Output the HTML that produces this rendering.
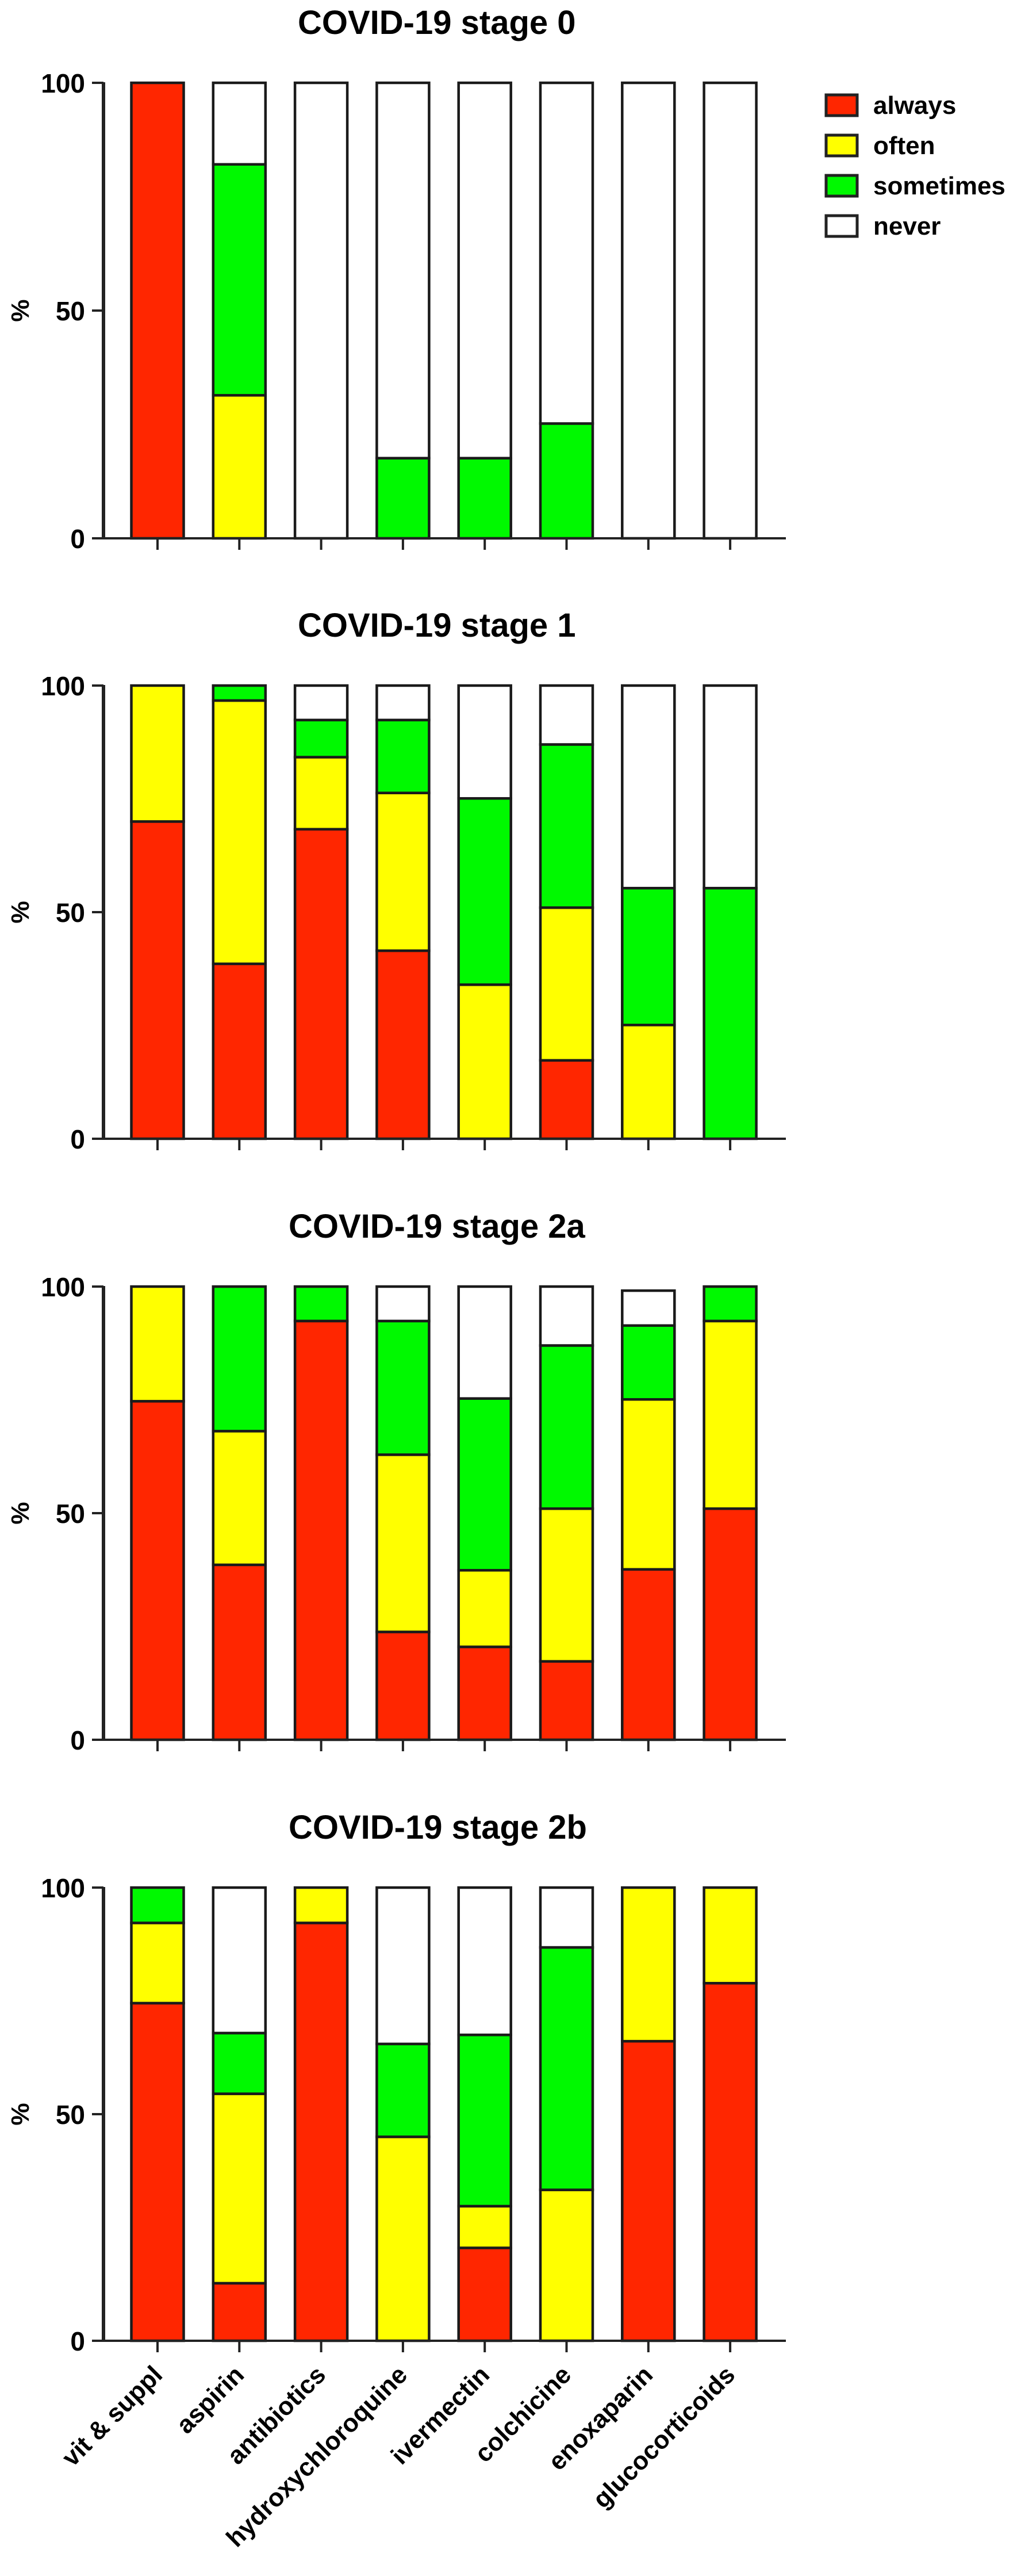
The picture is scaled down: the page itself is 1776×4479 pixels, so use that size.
<!DOCTYPE html>
<html><head><meta charset="utf-8"><style>body{margin:0;background:#fff}svg{display:block}</style></head>
<body>
<svg id="s" width="1776" height="4479" xmlns="http://www.w3.org/2000/svg" font-family="Liberation Sans, sans-serif" font-weight="bold">
<rect width="1776" height="4479" fill="#fff"/>
<g id="g"></g>
<!-- titles -->
<text x="518" y="59" font-size="58">COVID-19 stage 0</text>
<text x="518" y="1107" font-size="58">COVID-19 stage 1</text>
<text x="502" y="2152" font-size="58">COVID-19 stage 2a</text>
<text x="502" y="3197" font-size="58">COVID-19 stage 2b</text>
<!-- legend -->
<g stroke="#222" stroke-width="5">
<rect x="1437" y="165" width="54" height="36" fill="#ff2600"/>
<rect x="1437" y="235" width="54" height="36" fill="#ffff00"/>
<rect x="1437" y="305" width="54" height="36" fill="#00f900"/>
<rect x="1437" y="375" width="54" height="36" fill="#fff"/>
</g>
<g font-size="44">
<text x="1519" y="198">always</text>
<text x="1519" y="268">often</text>
<text x="1519" y="338">sometimes</text>
<text x="1519" y="408">never</text>
</g>
<g font-size="44" text-anchor="end">
<text transform="translate(285,4132) rotate(-45)">vit &amp; suppl</text>
<text transform="translate(427,4132) rotate(-45)">aspirin</text>
<text transform="translate(569,4132) rotate(-45)">antibiotics</text>
<text transform="translate(711,4132) rotate(-45)">hydroxychloroquine</text>
<text transform="translate(854,4132) rotate(-45)">ivermectin</text>
<text transform="translate(996,4132) rotate(-45)">colchicine</text>
<text transform="translate(1138,4132) rotate(-45)">enoxaparin</text>
<text transform="translate(1281,4132) rotate(-45)">glucocorticoids</text>
</g>
</svg>
<script>
var C=["#ff2600","#ffff00","#00f900","#fff"];
// cumulative tops: always, often, sometimes, never(total)
var P=[
 {t:144,b:936,d:[[100,100,100,100],[0,31.4,82.1,100],[0,0,0,100],[0,0,17.6,100],[0,0,17.6,100],[0,0,25.2,100],[0,0,0,100],[0,0,0,100]]},
 {t:1192,b:1980,d:[[70,100,100,100],[38.6,96.7,100,100],[68.3,84.2,92.4,100],[41.5,76.3,92.4,100],[0,34,75.1,100],[17.3,51,87,100],[0,25.1,55.3,100],[0,0,55.3,100]]},
 {t:2237,b:3025,d:[[74.7,100,100,100],[38.6,68.1,100,100],[92.4,92.4,100,100],[23.8,62.9,92.4,100],[20.5,37.4,75.3,100],[17.3,51,87,100],[37.6,75.1,91.4,99.1],[51,92.4,100,100]]},
 {t:3282,b:4070,d:[[74.5,92.2,100,100],[12.7,54.5,67.9,100],[92.2,100,100,100],[0,45,65.5,100],[20.5,29.7,67.5,100],[0,33.3,86.8,100],[66.1,100,100,100],[78.9,100,100,100]]}
];
var NS="http://www.w3.org/2000/svg",g=document.getElementById("g");
function el(n,a,txt){var e=document.createElementNS(NS,n);for(var k in a)e.setAttribute(k,a[k]);if(txt)e.textContent=txt;g.appendChild(e);return e;}
P.forEach(function(p){
 var h=p.b-p.t;function Y(v){return p.b-v/100*h;}
 for(var i=0;i<8;i++){
  var cx=274+142.3*i,x=cx-45.5,prev=0;
  var d=p.d[i];
  for(var k=0;k<4;k++){var top=d[k];if(top>prev){el("rect",{x:x,y:Y(top),width:91,height:Y(prev)-Y(top),fill:C[k],stroke:"#1a1a1a","stroke-width":4.5});}prev=Math.max(prev,top);}
  el("line",{x1:cx,y1:p.b,x2:cx,y2:p.b+20,stroke:"#222","stroke-width":4});
 }
 el("line",{x1:180,y1:p.t-1,x2:180,y2:p.b+1,stroke:"#222","stroke-width":6});
 el("line",{x1:160,y1:p.b,x2:1367,y2:p.b,stroke:"#222","stroke-width":4});
 [[100,p.t],[50,(p.t+p.b)/2],[0,p.b]].forEach(function(t){
  el("line",{x1:160,y1:t[1],x2:180,y2:t[1],stroke:"#222","stroke-width":4});
  el("text",{x:148,y:t[1]+17,"font-size":46,"text-anchor":"end"},String(t[0]));
 });
 var my=(p.t+p.b)/2;
 el("text",{transform:"translate(50,"+my+") rotate(-90)","font-size":44,"text-anchor":"middle"},"%");
});
</script>
</body></html>
